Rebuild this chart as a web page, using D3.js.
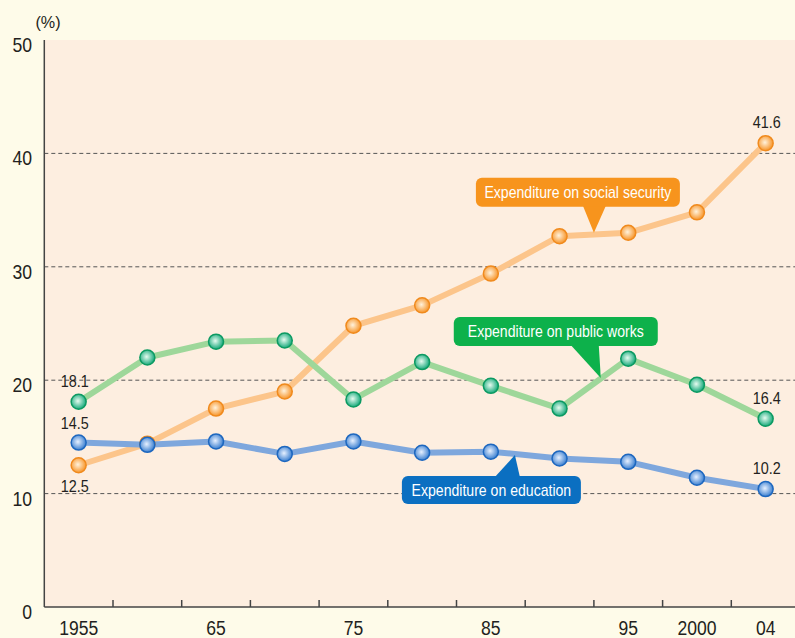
<!DOCTYPE html>
<html><head><meta charset="utf-8">
<script src="https://cdn.jsdelivr.net/npm/d3@7"></script>
<style>
html,body{margin:0;padding:0;background:#fefbe9;}
svg{display:block;}
text{font-family:"Liberation Sans",Arial,sans-serif;}
</style></head>
<body>
<svg id="chart" width="795" height="638"></svg>
<script>
const years = ["1955","60","65","70","75","80","85","90","95","2000","04"];
const xTickLabels = ["1955","","65","","75","","85","","95","2000","04"];
const yTicks = [0,10,20,30,40,50];
const socialSecurity = [12.5,14.4,17.5,19.0,24.8,26.6,29.4,32.7,33.0,34.8,40.9];
const publicWorks = [18.1,22.0,23.4,23.5,18.3,21.6,19.5,17.5,21.9,19.6,16.6];
const education = [14.5,14.3,14.6,13.5,14.6,13.6,13.7,13.1,12.8,11.4,10.4];
const seriesNames = ["Expenditure on social security","Expenditure on public works","Expenditure on education"];
// printed value labels: [series index, year index, text]
const valueLabels = [[1,0,"18.1"],[2,0,"14.5"],[0,0,"12.5"],[0,10,"41.6"],[1,10,"16.4"],[2,10,"10.2"]];
// callout anchors: [index position of pointer tip, value at tip]
const calloutTips = [[7.5,33.0],[7.6,20.2],[6.35,13.4]];

(function(){
const svg = d3.select("#chart");
const mLeft = 44.3, mTop = 40, mBottom = 607, mRight = 800;
const x = d3.scaleLinear().domain([-0.5, 10.5]).range([mLeft, mRight]);
const y = d3.scaleLinear().domain([0, 50]).range([mBottom, mTop]);

function ctext(sel, px, py, str, size, anchor, sx, fill){
  return sel.append("text").attr("transform", `translate(${px},${py}) scale(${sx},1)`)
    .attr("text-anchor", anchor).attr("font-size", size).attr("fill", fill || "#231f20").text(str);
}

svg.append("rect").attr("x", mLeft).attr("y", mTop).attr("width", mRight-mLeft).attr("height", mBottom-mTop).attr("fill", "#fdeee0");

svg.append("g").selectAll("line").data(yTicks.filter(d => d>0 && d<50)).join("line")
  .attr("x1", mLeft).attr("x2", mRight).attr("y1", d=>y(d)).attr("y2", d=>y(d))
  .attr("stroke", "#555").attr("stroke-width", 1).attr("stroke-dasharray", "4,3");

const yl = svg.append("g");
yTicks.forEach(d => ctext(yl, 32, y(d)+12, d, 20, "end", 0.88));
ctext(svg, 48, 28, "(%)", 17, "middle", 0.95);

svg.append("line").attr("x1", mLeft).attr("x2", mLeft).attr("y1", mTop).attr("y2", mBottom).attr("stroke","#444").attr("stroke-width",1.5);
svg.append("line").attr("x1", mLeft).attr("x2", mRight).attr("y1", mBottom).attr("y2", mBottom).attr("stroke","#444").attr("stroke-width",1.5);
svg.append("g").selectAll("line").data(d3.range(0.5, 10, 1)).join("line")
  .attr("x1", d=>x(d)).attr("x2", d=>x(d)).attr("y1", mBottom).attr("y2", mBottom-7)
  .attr("stroke","#444").attr("stroke-width",1.5);
const xl = svg.append("g");
xTickLabels.forEach((d,i) => { if (d) ctext(xl, x(i), 635, d, 19.5, "middle", 0.9); });

const defs = svg.append("defs");
const styles = [
  {line:"#fcc58b", fill:"#f7952a", stroke:"#f08a1d", light:"#fff2dc"},
  {line:"#9ed79a", fill:"#16a97a", stroke:"#0c9a62", light:"#e6fbf0"},
  {line:"#7ea7dd", fill:"#3b7fd0", stroke:"#1d67bf", light:"#e6f0ff"}
];
styles.forEach((s,i)=>{
  const g = defs.append("radialGradient").attr("id","g"+i).attr("cx","45%").attr("cy","45%").attr("r","55%");
  g.append("stop").attr("offset","0%").attr("stop-color", s.light);
  g.append("stop").attr("offset","100%").attr("stop-color", s.fill);
});

const allSeries = [socialSecurity, publicWorks, education];
const line = d3.line().x((d,i)=>x(i)).y(d=>y(d));
allSeries.forEach((data,k)=>{
  svg.append("path").datum(data).attr("d", line).attr("fill","none")
    .attr("stroke", styles[k].line).attr("stroke-width", 6).attr("stroke-linejoin","round");
});
allSeries.forEach((data,k)=>{
  svg.append("g").selectAll("circle").data(data).join("circle")
    .attr("cx",(d,i)=>x(i)).attr("cy",d=>y(d)).attr("r",7.5)
    .attr("fill","url(#g"+k+")").attr("stroke",styles[k].stroke).attr("stroke-width",1.5);
});

const offs = {"0,0":27, "1,0":-15, "2,0":-14};
const vl = svg.append("g");
valueLabels.forEach(([s,i,t]) => {
  const dy = i===0 ? offs[s+",0"] : -15;
  ctext(vl, x(i) + (i===0 ? -4 : 1), y(allSeries[s][i]) + dy, t, 16, "middle", 0.9);
});

const boxes = [
  {w:204, h:29, dx:-118, dy:-55, base:[-11,12], color:"#f7941d"},
  {w:204, h:29, dx:-147, dy:-61, base:[-30,-2], color:"#0db14b"},
  {w:179, h:28, dx:-113, dy:21, base:[-20,5], color:"#0b6fc1"}
];
boxes.forEach((b,k)=>{
  const tx = x(calloutTips[k][0]), ty = y(calloutTips[k][1]);
  const bx = tx + b.dx, by = ty + b.dy;
  const g = svg.append("g");
  const above = b.dy < 0;
  const baseY = above ? by + b.h - 1 : by + 1;
  g.append("path").attr("d", `M${tx+b.base[0]},${baseY} L${tx},${ty} L${tx+b.base[1]},${baseY} Z`).attr("fill", b.color);
  g.append("rect").attr("x", bx).attr("y", by).attr("width", b.w).attr("height", b.h).attr("rx", 6).attr("fill", b.color);
  ctext(g, bx + b.w/2, by + b.h/2 + 6, seriesNames[k], 16, "middle", 0.88, "#fff");
});
})();
</script>
</body></html>
